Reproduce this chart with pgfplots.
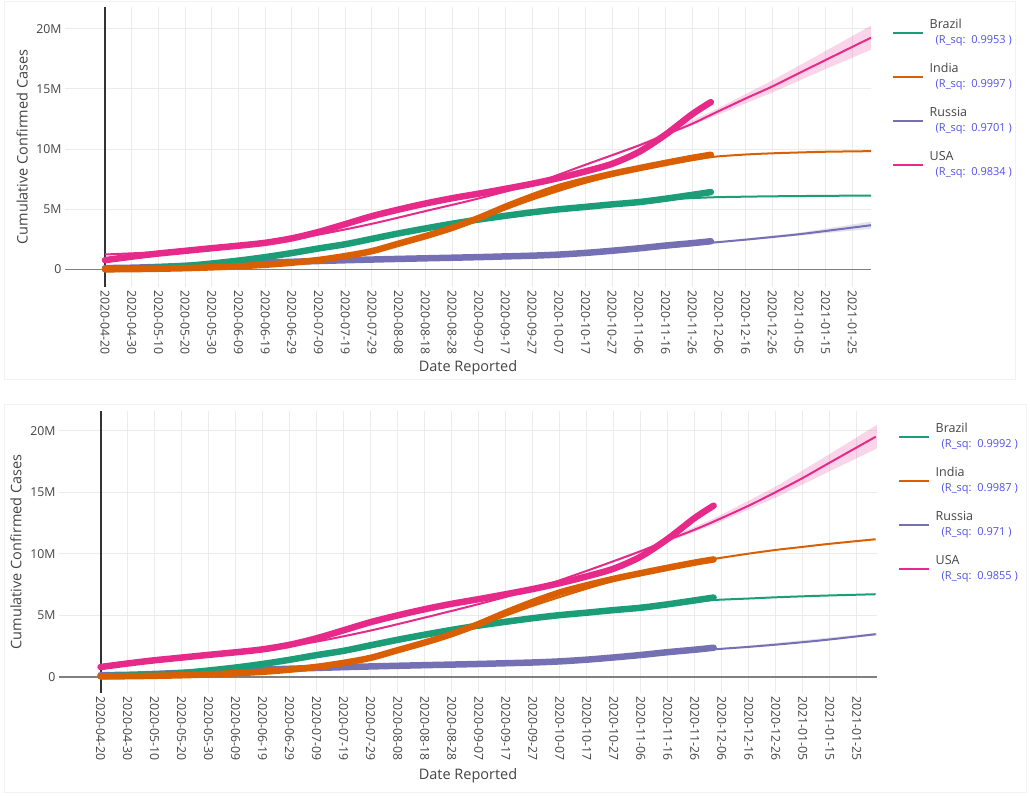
\documentclass[border=0pt]{standalone}
\usepackage{pgfplots}
\pgfplotsset{compat=1.18}
\usepackage{pgfplotstable}
\usepackage{fontspec}
\setmainfont{Open Sans}
\definecolor{cbr}{HTML}{1B9E77}
\definecolor{cin}{HTML}{D95F02}
\definecolor{cru}{HTML}{7570B3}
\definecolor{cus}{HTML}{E7298A}
\definecolor{tickc}{HTML}{444444}
\definecolor{gridc}{HTML}{EBEBEB}
\definecolor{rsq}{RGB}{80,80,235}
\definecolor{zeroc}{HTML}{808080}
\definecolor{vlinec}{HTML}{333333}
\definecolor{boxc}{HTML}{F2F2F2}

\pgfplotstableread{
day usa brazil india russia
0 0.78 0.04 0.019 0.12
10 1.07 0.087 0.034 0.15
20 1.33 0.163 0.067 0.22
30 1.55 0.292 0.112 0.308
40 1.77 0.499 0.182 0.396
50 1.98 0.740 0.276 0.477
60 2.22 1.03 0.396 0.569
70 2.59 1.37 0.567 0.641
80 3.12 1.75 0.794 0.707
90 3.77 2.10 1.12 0.771
100 4.43 2.55 1.53 0.829
110 4.98 3.00 2.15 0.882
120 5.48 3.41 2.77 0.932
130 5.92 3.80 3.46 0.980
140 6.30 4.15 4.28 1.03
150 6.70 4.46 5.21 1.09
160 7.12 4.75 6.07 1.15
170 7.60 5.00 6.84 1.24
180 8.15 5.20 7.43 1.38
190 8.78 5.41 7.95 1.56
200 9.76 5.60 8.41 1.76
210 11.2 5.88 8.85 1.99
220 12.9 6.20 9.27 2.19
227 13.9 6.43 9.53 2.35
}\obs

\pgfplotstableread{
day usa brazil india russia
0 1.25 0.15 0.10 0.20
20 1.45 0.30 0.12 0.30
40 1.75 0.60 0.22 0.45
60 2.20 1.05 0.45 0.58
80 2.90 1.65 0.85 0.70
100 3.80 2.45 1.60 0.80
120 4.85 3.30 2.75 0.90
140 5.90 4.10 4.20 1.02
160 7.10 4.80 5.80 1.15
180 8.70 5.30 7.20 1.35
200 10.30 5.70 8.30 1.65
210 11.20 5.83 8.75 1.83
220 12.10 5.93 9.10 2.05
228 12.95 6.00 9.36 2.24
240 14.20 6.05 9.55 2.48
250 15.20 6.08 9.65 2.70
260 16.30 6.10 9.72 2.93
270 17.40 6.12 9.78 3.20
287 19.25 6.14 9.83 3.68
}\fitA

\pgfplotstableread{
day usa brazil india russia
0 0.95 0.10 0.05 0.15
20 1.25 0.25 0.10 0.28
40 1.65 0.55 0.20 0.42
60 2.15 1.00 0.42 0.56
80 2.85 1.60 0.82 0.68
100 3.75 2.40 1.55 0.79
120 4.80 3.25 2.70 0.90
140 5.90 4.05 4.15 1.02
160 7.10 4.75 5.75 1.16
180 8.60 5.25 7.15 1.36
200 10.20 5.75 8.40 1.68
210 11.10 5.95 8.85 1.86
220 11.95 6.12 9.30 2.05
228 12.70 6.24 9.60 2.23
240 13.90 6.35 10.00 2.42
250 15.00 6.45 10.30 2.60
260 16.15 6.53 10.55 2.80
270 17.40 6.60 10.80 3.02
287 19.50 6.70 11.17 3.45
}\fitB

\newcommand{\lgent}[2]{\begin{tabular}{@{}l@{}}#1\\\hspace*{6pt}{\color{rsq}\fontsize{11}{13}\selectfont(R\_sq:\ \ #2 )}\end{tabular}}

\pgfplotsset{
  legend image code/.code={\draw[#1] (0pt,0pt) -- (30pt,0pt);},
  covid/.style={
    scale only axis,
    axis line style={draw=none},
    major tick length=0pt,
    tick style={draw=none},
    xmajorgrids, ymajorgrids,
    grid style={gridc, line width=0.9pt},
    xtick={0,10,...,280},
    xticklabels={2020-04-20,2020-04-30,2020-05-10,2020-05-20,2020-05-30,2020-06-09,2020-06-19,2020-06-29,2020-07-09,2020-07-19,2020-07-29,2020-08-08,2020-08-18,2020-08-28,2020-09-07,2020-09-17,2020-09-27,2020-10-07,2020-10-17,2020-10-27,2020-11-06,2020-11-16,2020-11-26,2020-12-06,2020-12-16,2020-12-26,2021-01-05,2021-01-15,2021-01-25},
    ytick={0,5,10,15,20},
    yticklabels={0,5M,10M,15M,20M},
    ticklabel style={font=\fontsize{12.3}{14}\selectfont, text=tickc},
    xticklabel style={rotate=-90, anchor=west},
    label style={font=\fontsize{14.5}{16}\selectfont, text=tickc},
    xlabel={Date Reported},
    ylabel={Cumulative Confirmed Cases},
    legend style={draw=none, fill=none, at={(1,1)}, anchor=north west,
      xshift=21pt, yshift=-11pt,
      font=\fontsize{12.5}{15}\selectfont, text=tickc,
      nodes={inner sep=0pt, text depth=}, row sep=14pt, column sep=5pt, inner sep=0pt},
    legend cell align=left,
  },
  obs/.style={line width=6.5pt, line cap=round, line join=round, smooth, forget plot},
  fit/.style={line width=2pt, smooth, forget plot},
}

\begin{document}
\begin{tikzpicture}
\useasboundingbox (0,0) rectangle (1030pt,795pt);
\draw[boxc, line width=1pt] (4pt,415pt) rectangle (1015pt,793pt);
\draw[boxc, line width=1pt] (4pt,3pt) rectangle (1026pt,390pt);

% ---------------- top panel ----------------
\begin{axis}[covid, at={(65pt,508pt)}, anchor=south west,
  width=806pt, height=280pt,
  xmin=-15, xmax=287, ymin=-1.45, ymax=21.8,
  xlabel style={at={(axis description cs:0.5,-0.289)}, anchor=center},
  ylabel style={at={(axis description cs:-0.0533,0.5)}, anchor=center}]
\addlegendimage{cbr, line width=2.5pt}\addlegendentry{\lgent{Brazil}{0.9953}}
\addlegendimage{cin, line width=2.5pt}\addlegendentry{\lgent{India}{0.9997}}
\addlegendimage{cru, line width=2.5pt}\addlegendentry{\lgent{Russia}{0.9701}}
\addlegendimage{cus, line width=2.5pt}\addlegendentry{\lgent{USA}{0.9834}}
\addplot[zeroc, line width=1.8pt, forget plot] coordinates {(-15,0) (287,0)};
\addplot[vlinec, line width=2pt, forget plot] coordinates {(0,-1.45) (0,21.8)};
\addplot[draw=none, fill=cus, fill opacity=0.2, forget plot] coordinates {(180,8.75) (200,10.4) (228,13.2) (250,15.7) (270,18.15) (287,20.25) (287,18.25) (270,16.65) (250,14.7) (228,12.7) (200,10.2) (180,8.65)} -- cycle;
\addplot[draw=none, fill=cru, fill opacity=0.2, forget plot] coordinates {(200,1.68) (228,2.3) (260,3.05) (287,3.98) (287,3.38) (260,2.81) (228,2.18) (200,1.62)} -- cycle;
\addplot[fit, cbr] table[x=day, y=brazil] {\fitA};
\addplot[fit, cin] table[x=day, y=india] {\fitA};
\addplot[fit, cru] table[x=day, y=russia] {\fitA};
\addplot[fit, cus] table[x=day, y=usa] {\fitA};
\addplot[obs, cru] table[x=day, y=russia] {\obs};
\addplot[obs, cbr] table[x=day, y=brazil] {\obs};
\addplot[obs, cin] table[x=day, y=india] {\obs};
\addplot[obs, cus] table[x=day, y=usa] {\obs};
\end{axis}

% ---------------- bottom panel ----------------
\begin{axis}[covid, at={(59pt,102pt)}, anchor=south west,
  width=818pt, height=282.3pt,
  xmin=-15.4, xmax=287.5, ymin=-1.33, ymax=21.62,
  xlabel style={at={(axis description cs:0.5,-0.294)}, anchor=center},
  ylabel style={at={(axis description cs:-0.0526,0.5)}, anchor=center}]
\addlegendimage{cbr, line width=2.5pt}\addlegendentry{\lgent{Brazil}{0.9992}}
\addlegendimage{cin, line width=2.5pt}\addlegendentry{\lgent{India}{0.9987}}
\addlegendimage{cru, line width=2.5pt}\addlegendentry{\lgent{Russia}{0.971}}
\addlegendimage{cus, line width=2.5pt}\addlegendentry{\lgent{USA}{0.9855}}
\addplot[zeroc, line width=1.8pt, forget plot] coordinates {(-15.4,0) (287.5,0)};
\addplot[vlinec, line width=2pt, forget plot] coordinates {(0,-1.33) (0,21.62)};
\addplot[draw=none, fill=cus, fill opacity=0.2, forget plot] coordinates {(180,8.65) (200,10.3) (228,12.95) (250,15.45) (270,18.1) (287.5,20.47) (287.5,18.55) (270,16.7) (250,14.55) (228,12.45) (200,10.1) (180,8.55)} -- cycle;
\addplot[draw=none, fill=cru, fill opacity=0.2, forget plot] coordinates {(228,2.26) (287.5,3.56) (287.5,3.35) (228,2.2)} -- cycle;
\addplot[fit, cbr] table[x=day, y=brazil] {\fitB};
\addplot[fit, cin] table[x=day, y=india] {\fitB};
\addplot[fit, cru] table[x=day, y=russia] {\fitB};
\addplot[fit, cus] table[x=day, y=usa] {\fitB};
\addplot[obs, cru] table[x=day, y=russia] {\obs};
\addplot[obs, cbr] table[x=day, y=brazil] {\obs};
\addplot[obs, cin] table[x=day, y=india] {\obs};
\addplot[obs, cus] table[x=day, y=usa] {\obs};
\end{axis}
\end{tikzpicture}
\end{document}
